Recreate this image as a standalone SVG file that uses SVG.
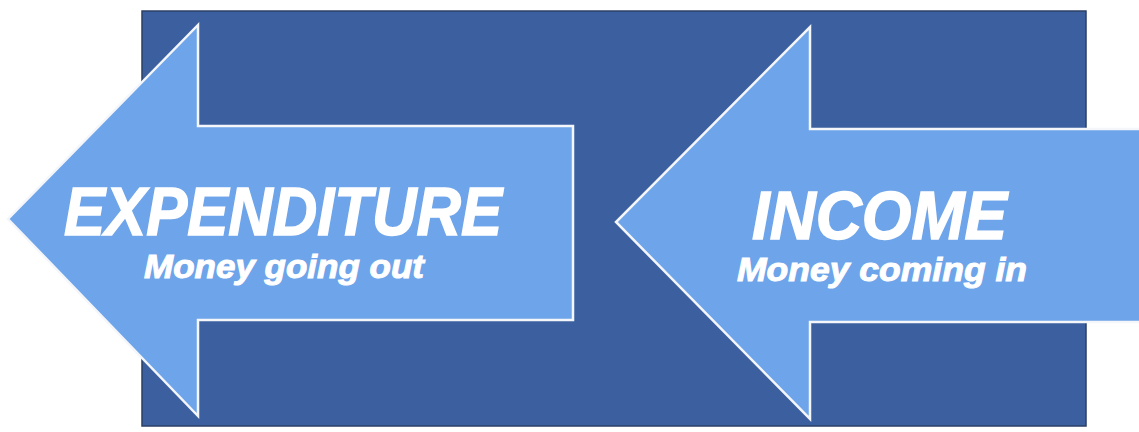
<svg xmlns="http://www.w3.org/2000/svg" width="1139" height="432" viewBox="0 0 1139 432">
<style>
.bg{fill:#3c609f;stroke:#2b3f66;stroke-width:1.5}
.arrow{fill:#6ea4e9;stroke:#f4f6fa;stroke-width:2.5;stroke-linejoin:miter}
.t1{font-family:"Liberation Sans",Arial,sans-serif;font-weight:bold;font-style:italic;fill:#ffffff;stroke:#ffffff;stroke-width:1.5;font-size:68px}
.t2{font-family:"Liberation Sans",Arial,sans-serif;font-weight:bold;font-style:italic;fill:#ffffff;stroke:#ffffff;stroke-width:1;font-size:33px}
</style>
<rect x="0" y="0" width="1139" height="432" fill="#ffffff"/>
<g id="panel">
<rect class="bg" x="142" y="11" width="944" height="415"/>
</g>
<g id="income">
<polygon class="arrow" points="1145,129 810,129 810,27 616,222 810,419 810,322 1145,322"/>
<text class="t1" x="752" y="239" textLength="255" lengthAdjust="spacingAndGlyphs">INCOME</text>
<text class="t2" x="737" y="281" textLength="290" lengthAdjust="spacingAndGlyphs">Money coming in</text>
</g>
<g id="expenditure">
<polygon class="arrow" points="573,126 198,126 198,25 8,219 198,416 198,320 573,320"/>
<text class="t1" x="64" y="235" textLength="438" lengthAdjust="spacingAndGlyphs">EXPENDITURE</text>
<text class="t2" x="144" y="278" textLength="280" lengthAdjust="spacingAndGlyphs">Money going out</text>
</g>
<g id="connectors"></g>
</svg>
